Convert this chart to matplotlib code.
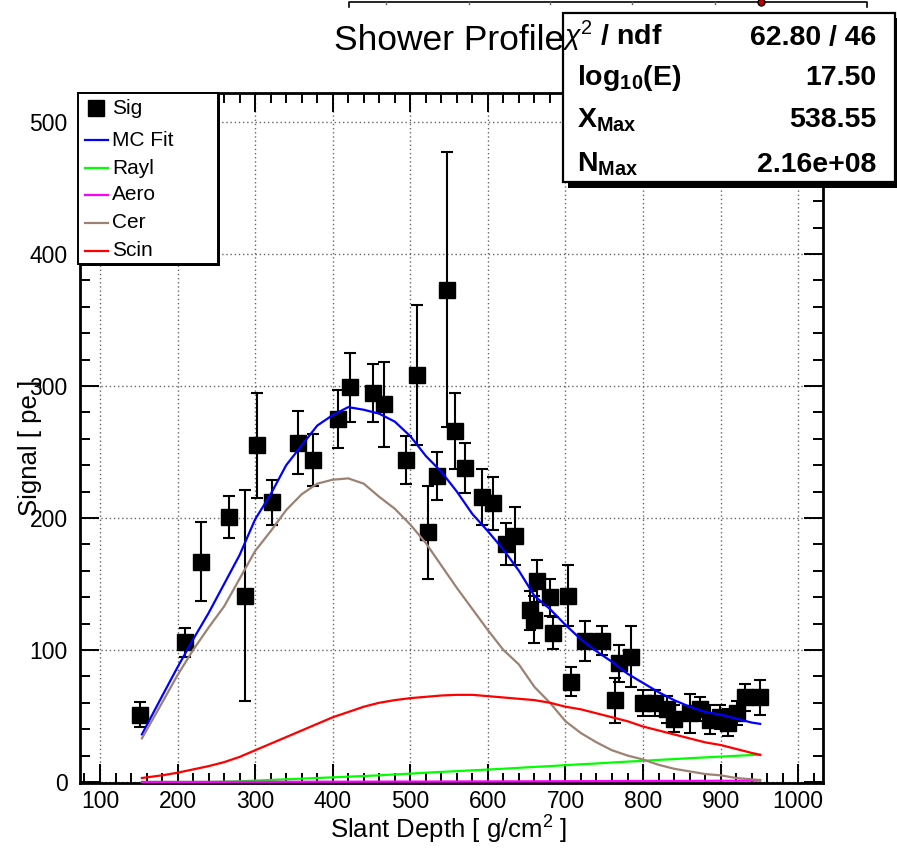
import matplotlib
matplotlib.use("Agg")
import matplotlib.pyplot as plt
from matplotlib.lines import Line2D
from matplotlib.patches import Rectangle
from matplotlib.ticker import MultipleLocator

plt.rcParams["font.family"] = ["Liberation Sans", "DejaVu Sans"]
plt.rcParams["mathtext.fontset"] = "custom"
plt.rcParams["mathtext.rm"] = "Liberation Sans"
plt.rcParams["mathtext.bf"] = "Liberation Sans:bold"
plt.rcParams["mathtext.it"] = "Liberation Sans:italic"

# measured signal per slant depth bin
depth = [152, 209, 230, 266, 287, 302, 322, 355, 374, 407, 422, 452, 466, 494, 508, 523,
         534, 547, 558, 571, 593, 606, 624, 635, 654, 660, 663, 680, 684, 703, 707, 725,
         747, 764, 769, 784, 800, 816, 831, 840, 860, 873, 886, 899, 909, 921, 931, 951]
signal = [51, 106, 167, 201, 141, 255, 212, 257, 244, 275, 299, 295, 286, 244, 308, 189,
          232, 373, 266, 238, 216, 211, 180, 186, 130, 123, 152, 140, 113, 141, 76, 107,
          107, 62, 90, 95, 60, 60, 55, 48, 52, 55, 47, 49, 45, 52, 64, 64]
signal_err = [9.5, 11, 30, 16, 80, 40, 17, 24, 20, 22, 26, 22, 32, 18, 53, 35,
              18, 104, 29, 19, 21, 20, 16, 22, 15, 18, 16, 14, 12, 23, 11, 15,
              11, 17, 14, 23, 10, 10, 10, 10, 15, 9, 11, 9, 10, 9, 10, 13]

# fitted light components
fit_depth = [154, 180, 200, 220, 240, 260, 280, 300, 320, 340, 360, 380, 400, 420,
             440, 460, 480, 500, 520, 540, 560, 580, 600, 620, 640, 660, 680, 700,
             720, 740, 760, 780, 800, 820, 840, 860, 880, 900, 920, 940, 951]
mc_fit = [36, 65, 87, 108, 128, 150, 172, 199, 218, 240, 255, 270, 278, 284,
          282, 279, 273, 262, 247, 235, 220, 203, 190, 176, 160, 141, 131, 119,
          108, 99, 91, 82, 75, 68, 62, 57, 53, 51, 48, 45, 44]
rayl = [0, 0, 0, 0, 0, 0.2, 0.5, 1, 1.5, 2, 2.5, 3, 3.5, 4,
        4.5, 5, 5.7, 6.3, 7, 7.6, 8.2, 8.8, 9.4, 10, 10.7, 11.4, 12, 12.7,
        13.4, 14, 14.7, 15.4, 16, 16.7, 17.3, 18, 18.6, 19.2, 19.8, 20.4, 20.7]
aero = [0, 0, 0, 0, 0.05, 0.05, 0.1, 0.1, 0.1, 0.15, 0.15, 0.2, 0.2, 0.2,
        0.25, 0.25, 0.3, 0.3, 0.3, 0.35, 0.35, 0.4, 0.4, 0.45, 0.45, 0.5, 0.5, 0.55,
        0.6, 0.6, 0.65, 0.7, 0.7, 0.75, 0.8, 0.8, 0.85, 0.9, 0.9, 0.95, 1.0]
cer = [33, 60, 81, 100, 117, 133, 154, 175, 190, 206, 218, 226, 229, 230,
       226, 216, 207, 195, 181, 164, 147, 131, 115, 100, 89, 72, 60, 46,
       37, 30, 24, 20, 17, 13, 10, 8, 6, 5, 3, 2, 1.5]
scin = [3, 5, 7, 9.5, 12, 15, 19, 24, 29, 34, 39, 44, 49, 53,
        57, 60, 62, 63.5, 64.5, 65.5, 66, 66, 65, 64, 63, 62, 60, 57,
        55, 52, 49, 46, 42, 39, 36, 33, 30, 28, 25, 22, 20.5]

stat_labels = [r"$\chi^{2}$ / ndf", r"log$_{\mathbf{10}}$(E)",
               r"X$_{\mathbf{Max}}$", r"N$_{\mathbf{Max}}$"]
stat_values = ["62.80 / 46", "17.50", "538.55", "2.16e+08"]

series = [("MC Fit", mc_fit, "#0000ff"), ("Rayl", rayl, "#00ff00"),
          ("Aero", aero, "#ff00ff"), ("Cer", cer, "#9c8273"), ("Scin", scin, "#ff0000")]

W, H = 897, 848
fig = plt.figure(figsize=(W / 100, H / 100), dpi=100)


def fx(px):
    return px / W


def fy(py):
    return 1 - py / H


ax = fig.add_axes([fx(80), fy(783), fx(823) - fx(80), fy(93) - fy(783)])

ax.errorbar(depth, signal, yerr=signal_err, fmt="s", color="black", ms=12,
            elinewidth=1.5, capsize=4.3, capthick=1.5, zorder=3)
for name, vals, col in series:
    ax.plot(fit_depth, vals, color=col, lw=1.6, zorder=4)

ax.set_xlim(74.2, 1032)
ax.set_ylim(-0.8, 522)
ax.xaxis.set_major_locator(MultipleLocator(100))
ax.xaxis.set_minor_locator(MultipleLocator(20))
ax.yaxis.set_major_locator(MultipleLocator(100))
ax.yaxis.set_minor_locator(MultipleLocator(20))
ax.tick_params(which="both", direction="in", top=True, right=True, width=1.4,
               labelsize=16.5, colors="black")
ax.tick_params(which="major", length=14)
ax.tick_params(which="minor", length=7)
ax.tick_params(axis="y", pad=9)
ax.tick_params(axis="x", pad=5)
ax.grid(True, which="major", linestyle=(0, (1, 2)), color="#666666", lw=1.0)
for sp in ax.spines.values():
    sp.set_linewidth(2)

fig.text(fx(449), fy(830), r"Slant Depth [ g/cm$^{2}$ ]", fontsize=18.5,
         ha="center", va="center")
fig.text(fx(30), fy(448), "Signal [ pe ]", fontsize=18.5, rotation=90,
         ha="center", va="center")
fig.text(fx(564), fy(50), "Shower Profile", fontsize=25.5, ha="right", va="baseline")

# stats box with drop shadow
fig.add_artist(Rectangle((fx(568), fy(188)), fx(332), fy(18) - fy(188),
                         transform=fig.transFigure, facecolor="black",
                         edgecolor="none", clip_on=False))
fig.add_artist(Rectangle((fx(563), fy(182)), fx(332), fy(13) - fy(182),
                         transform=fig.transFigure, facecolor="white",
                         edgecolor="black", lw=1.6, clip_on=False))
label_x = [562, 577, 577, 577]
baselines = [45, 85, 127, 172]
for lab, val, lx, by in zip(stat_labels, stat_values, label_x, baselines):
    fig.text(fx(lx), fy(by), lab, fontsize=20.5, fontweight="bold", ha="left", va="baseline")
    fig.text(fx(876), fy(by), val, fontsize=20.5, fontweight="bold", ha="right", va="baseline")

# legend box
fig.add_artist(Rectangle((fx(80), fy(266)), fx(140), fy(93) - fy(266),
                         transform=fig.transFigure, facecolor="black",
                         edgecolor="none", zorder=5))
fig.add_artist(Rectangle((fx(78), fy(264)), fx(140), fy(93) - fy(264),
                         transform=fig.transFigure, facecolor="white",
                         edgecolor="black", lw=1.4, zorder=6))
row_y = [108, 140, 168, 195, 223, 251]
fig.add_artist(Line2D([fx(96)], [fy(row_y[0])], marker="s", ms=12, color="black",
                      transform=fig.transFigure, zorder=7))
fig.text(fx(112), fy(row_y[0]), "Sig", fontsize=15, ha="left", va="center", zorder=7)
for (name, vals, col), ry in zip(series, row_y[1:]):
    fig.add_artist(Line2D([fx(85), fx(108)], [fy(ry), fy(ry)], color=col, lw=1.6,
                          transform=fig.transFigure, zorder=7))
    fig.text(fx(112), fy(ry), name, fontsize=15, ha="left", va="center", zorder=7)

# edge of the neighbouring pad
fig.add_artist(Line2D([fx(349), fx(349), fx(867), fx(867)],
                      [fy(7), fy(1.5), fy(1.5), fy(7)], color="black", lw=1.2,
                      transform=fig.transFigure))
for tx in [386, 469, 550, 632, 715]:
    fig.add_artist(Line2D([fx(tx), fx(tx)], [fy(1.5), fy(4)], color="#666666", lw=1,
                          transform=fig.transFigure))
fig.add_artist(Line2D([fx(761)], [fy(2)], marker="o", ms=5, color="#c00000",
                      markeredgecolor="black", transform=fig.transFigure))

fig.savefig("out.png", dpi=100)
